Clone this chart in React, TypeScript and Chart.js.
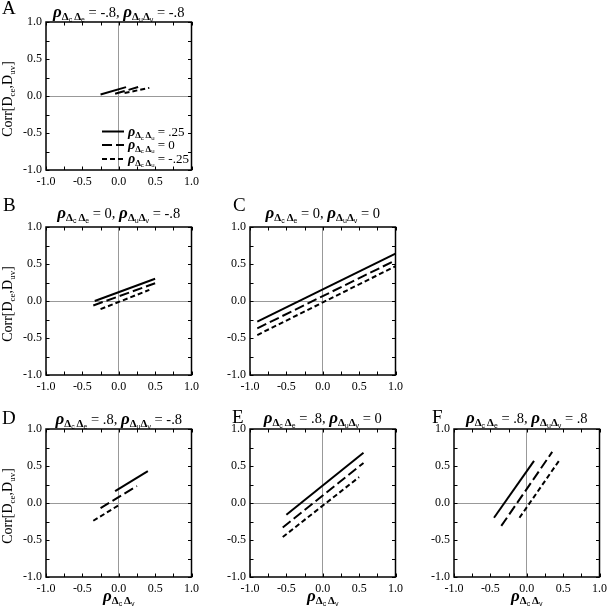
import React, { useEffect, useRef } from "react";
import { Chart, registerables } from "chart.js";
Chart.register(...registerables);

// ---- data ----
const tickValues = [-1, -0.5, 0, 0.5, 1];
const tickLabels = ["-1.0", "-0.5", "0.0", "0.5", "1.0"];
const legendValues = [".25", "0", "-.25"];
const panelLetters = ["A", "B", "C", "D", "E", "F"];
const rhoCE = ["-.8", "0", "0", ".8", ".8", ".8"];
const rhoUV = ["-.8", "-.8", "0", "-.8", "0", ".8"];

// each series: [[x0, y0], [x1, y1]]  (solid = .25, long dash = 0, short dash = -.25)
const A_solid = [[-0.25, 0.02], [0.1, 0.12]];
const A_long = [[-0.05, 0.03], [0.3, 0.13]];
const A_short = [[0.08, 0.04], [0.42, 0.11]];

const B_solid = [[-0.33, 0.0], [0.5, 0.3]];
const B_long = [[-0.35, -0.06], [0.5, 0.24]];
const B_short = [[-0.25, -0.11], [0.42, 0.15]];

const C_solid = [[-0.9, -0.28], [1.0, 0.64]];
const C_long = [[-0.9, -0.37], [1.0, 0.55]];
const C_short = [[-0.9, -0.46], [1.0, 0.47]];

const D_solid = [[-0.05, 0.16], [0.4, 0.43]];
const D_long = [[-0.25, -0.07], [0.25, 0.23]];
const D_short = [[-0.35, -0.24], [0.0, -0.03]];

const E_solid = [[-0.5, -0.16], [0.56, 0.68]];
const E_long = [[-0.55, -0.33], [0.56, 0.54]];
const E_short = [[-0.55, -0.46], [0.5, 0.35]];

const F_solid = [[-0.45, -0.2], [0.1, 0.57]];
const F_long = [[-0.35, -0.31], [0.35, 0.69]];
const F_short = [[-0.1, -0.2], [0.45, 0.58]];

const seriesByPanel = [
  [A_solid, A_long, A_short],
  [B_solid, B_long, B_short],
  [C_solid, C_long, C_short],
  [D_solid, D_long, D_short],
  [E_solid, E_long, E_short],
  [F_solid, F_long, F_short],
];

// ---- styles / layout ----
const dashes = [[], [10, 4], [5, 3]];
const SERIF = '"Liberation Serif", "Times New Roman", serif';
const PLOT_W = 149;
const PLOT_H = 148;
const PLOT_LEFT = 46;

type Seg = { t: string; f: string; dy: number };

const layouts = [
  { x: 0, y: 0, w: 204, h: 190, pt: 22, letter: [2, 13.5], titleY: 17, yTitle: true, xTitle: false, legend: true },
  { x: 0, y: 190, w: 204, h: 205, pt: 37, letter: [3, 211], titleY: 218, yTitle: true, xTitle: false, legend: false },
  { x: 204, y: 190, w: 204, h: 205, pt: 37, letter: [233, 211], titleY: 218, yTitle: false, xTitle: false, legend: false },
  { x: 0, y: 395, w: 204, h: 217, pt: 34, letter: [2, 424], titleY: 424, yTitle: true, xTitle: true, legend: false },
  { x: 204, y: 395, w: 204, h: 217, pt: 34, letter: [232, 423], titleY: 423, yTitle: false, xTitle: true, legend: false },
  { x: 408, y: 395, w: 204, h: 217, pt: 34, letter: [432, 423], titleY: 423, yTitle: false, xTitle: true, legend: false },
];

function rho(a: string, b: string, s: number, space: boolean): Seg[] {
  const dF = `bold ${Math.round(s * 0.62)}px ${SERIF}`;
  const sF = `${Math.max(5, Math.round(s * 0.4))}px "Liberation Sans", sans-serif`;
  const segs: Seg[] = [
    { t: "ρ", f: `italic bold ${s}px ${SERIF}`, dy: 0 },
    { t: "Δ", f: dF, dy: s * 0.2 },
    { t: a, f: sF, dy: s * 0.3 },
  ];
  if (space) segs.push({ t: " ", f: sF, dy: 0 });
  segs.push({ t: "Δ", f: dF, dy: s * 0.2 });
  segs.push({ t: b, f: sF, dy: s * 0.3 });
  return segs;
}

function drawRich(ctx: CanvasRenderingContext2D, segs: Seg[], x: number, y: number, align: string) {
  let w = 0;
  for (const s of segs) {
    ctx.font = s.f;
    w += ctx.measureText(s.t).width;
  }
  let cx = align === "center" ? x - w / 2 : x;
  ctx.textAlign = "left";
  ctx.textBaseline = "alphabetic";
  for (const s of segs) {
    ctx.font = s.f;
    ctx.fillText(s.t, cx, y + s.dy);
    cx += ctx.measureText(s.t).width;
  }
}

function decor(i: number) {
  const L = layouts[i];
  return {
    id: "decor" + i,
    afterDraw(chart: any) {
      const ctx: CanvasRenderingContext2D = chart.ctx;
      const a = chart.chartArea;
      const xs = chart.scales.x;
      const ys = chart.scales.y;
      ctx.save();
      // inward ticks
      ctx.strokeStyle = "#000";
      ctx.lineWidth = 1;
      ctx.beginPath();
      for (const t of xs.ticks) {
        const px = Math.round(xs.getPixelForValue(t.value)) + 0.5;
        ctx.moveTo(px, a.bottom);
        ctx.lineTo(px, a.bottom - 3.5);
        ctx.moveTo(px, a.top);
        ctx.lineTo(px, a.top + 3.5);
      }
      for (const t of ys.ticks) {
        const py = Math.round(ys.getPixelForValue(t.value)) + 0.5;
        ctx.moveTo(a.left, py);
        ctx.lineTo(a.left + 3.5, py);
        ctx.moveTo(a.right, py);
        ctx.lineTo(a.right - 3.5, py);
      }
      ctx.stroke();
      // frame
      ctx.lineWidth = 1.5;
      ctx.strokeRect(a.left, a.top, a.right - a.left, a.bottom - a.top);

      ctx.fillStyle = "#000";
      // panel letter
      ctx.font = `19px ${SERIF}`;
      ctx.textAlign = "left";
      ctx.textBaseline = "alphabetic";
      ctx.fillText(panelLetters[i], L.letter[0] - L.x, L.letter[1] - L.y);
      // title
      const cx = (a.left + a.right) / 2;
      const title: Seg[] = [
        ...rho("c", "e", 17, true),
        { t: ` = ${rhoCE[i]}, `, f: `14.5px ${SERIF}`, dy: 0 },
        ...rho("u", "v", 17, false),
        { t: ` = ${rhoUV[i]}`, f: `14.5px ${SERIF}`, dy: 0 },
      ];
      drawRich(ctx, title, cx, L.titleY - L.y, "center");
      // y-axis title
      if (L.yTitle) {
        ctx.save();
        ctx.translate(12, (a.top + a.bottom) / 2 + 3);
        ctx.rotate(-Math.PI / 2);
        const yt: Seg[] = [
          { t: "Corr[D", f: `14px ${SERIF}`, dy: 0 },
          { t: "ce", f: `9px ${SERIF}`, dy: 3 },
          { t: ",D", f: `14px ${SERIF}`, dy: 0 },
          { t: "uv", f: `9px ${SERIF}`, dy: 3 },
          { t: "]", f: `14px ${SERIF}`, dy: 0 },
        ];
        drawRich(ctx, yt, 0, 0, "center");
        ctx.restore();
      }
      // x-axis title
      if (L.xTitle) {
        drawRich(ctx, rho("c", "v", 17, true), cx, 601 - L.y, "center");
      }
      // legend
      if (L.legend) {
        const rows = [109.5, 123, 137];
        chart.data.datasets.forEach((ds: any, k: number) => {
          const yy = a.top + rows[k];
          ctx.save();
          ctx.strokeStyle = "#000";
          ctx.lineWidth = 2;
          ctx.setLineDash(ds.borderDash || []);
          ctx.beginPath();
          ctx.moveTo(a.left + 56, yy);
          ctx.lineTo(a.left + 78, yy);
          ctx.stroke();
          ctx.restore();
          const segs: Seg[] = [
            ...rho("c", "u", 14, true),
            { t: ` = ${legendValues[k]}`, f: `13px ${SERIF}`, dy: 0 },
          ];
          drawRich(ctx, segs, a.left + 82, yy + 4, "left");
        });
      }
      ctx.restore();
    },
  };
}

function makeConfig(i: number): any {
  const L = layouts[i];
  const datasets = seriesByPanel[i].map((pts, k) => ({
    label: legendValues[k],
    data: pts.map(([x, y]) => ({ x, y })),
    borderColor: "#000",
    borderWidth: 2,
    borderDash: dashes[k],
    borderCapStyle: "butt",
    pointRadius: 0,
    fill: false,
    tension: 0,
  }));
  const tickFont = { family: SERIF, size: 12 };
  const grid = {
    drawTicks: false,
    lineWidth: 1,
    color: (c: any) => (c.tick && Math.abs(c.tick.value) < 1e-9 ? "#999999" : "rgba(0,0,0,0)"),
  };
  const cb = (v: any) => {
    const idx = tickValues.findIndex((t) => Math.abs(t - Number(v)) < 1e-9);
    return idx >= 0 ? tickLabels[idx] : "";
  };
  return {
    type: "line",
    data: { datasets },
    options: {
      animation: false,
      responsive: false,
      devicePixelRatio: 1,
      events: [],
      layout: { padding: { left: 0, top: L.pt, right: L.w - PLOT_LEFT - PLOT_W, bottom: 0 } },
      plugins: { legend: { display: false }, tooltip: { enabled: false } },
      scales: {
        x: {
          type: "linear",
          min: -1,
          max: 1,
          border: { display: false },
          grid,
          ticks: { stepSize: 0.25, autoSkip: false, maxRotation: 0, minRotation: 0, padding: 5, color: "#000", font: tickFont, callback: cb },
          afterFit: (s: any) => {
            s.height = L.h - L.pt - PLOT_H;
          },
        },
        y: {
          type: "linear",
          min: -1,
          max: 1,
          border: { display: false },
          grid,
          ticks: { stepSize: 0.25, autoSkip: false, padding: 4, color: "#000", font: tickFont, callback: cb },
          afterFit: (s: any) => {
            s.width = PLOT_LEFT;
          },
        },
      },
    },
    plugins: [decor(i)],
  };
}

function Panel({ i }: { i: number }) {
  const ref = useRef<HTMLCanvasElement>(null);
  const L = layouts[i];
  useEffect(() => {
    const chart = new Chart(ref.current as HTMLCanvasElement, makeConfig(i));
    return () => chart.destroy();
  }, [i]);
  return (
    <canvas
      ref={ref}
      width={L.w}
      height={L.h}
      style={{ position: "absolute", left: L.x, top: L.y, width: L.w, height: L.h, display: "block" }}
    />
  );
}

export default function App() {
  return (
    <div
      style={{
        position: "fixed",
        left: 0,
        top: 0,
        width: 610,
        height: 612,
        overflow: "hidden",
        background: "#fff",
      }}
    >
      {layouts.map((_, i) => (
        <Panel key={i} i={i} />
      ))}
    </div>
  );
}
